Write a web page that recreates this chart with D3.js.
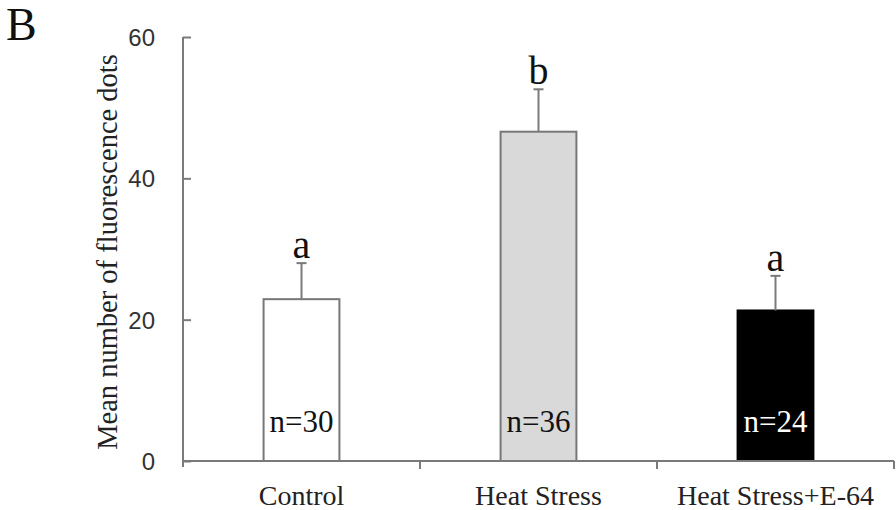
<!DOCTYPE html>
<html>
<head>
<meta charset="utf-8">
<script src="https://cdn.jsdelivr.net/npm/d3@7"></script>
<style>
body { margin: 0; background: #fff; }
</style>
</head>
<body>
<div id="graph"></div>
<script>
var categories = ["Control", "Heat Stress", "Heat Stress+E-64"];
var means = [22.9, 46.6, 21.3];
var errors = [5.1, 6.0, 4.9];
var letters = ["a", "b", "a"];
var sampleSizes = ["n=30", "n=36", "n=24"];
var fills = ["#ffffff", "#d9d9d9", "#000000"];
var yTicks = [0, 20, 40, 60];

var graph_width = 896, graph_height = 510;
var m_left = 183, m_right = 894, m_top = 37, m_bottom = 461;
var axisColor = "#7a7a7a";

var svg = d3.select("#graph").append("svg")
    .attr("width", graph_width)
    .attr("height", graph_height);

var x = d3.scaleBand().domain(categories).range([m_left, m_right]).paddingInner(0.68).paddingOuter(0.34);
var band = d3.scaleBand().domain(categories).range([m_left, m_right]);
var y = d3.scaleLinear().domain([0, 60]).range([m_bottom, m_top]);

// panel letter
svg.append("text")
    .attr("x", 6).attr("y", 40)
    .attr("font-family", "Liberation Serif")
    .attr("font-size", 46)
    .attr("fill", "#111")
    .text("B");

// bars
svg.selectAll("rect.bar").data(categories).enter().append("rect")
    .attr("class", "bar")
    .attr("x", function (d) { return x(d); })
    .attr("width", x.bandwidth())
    .attr("y", function (d, i) { return y(means[i]); })
    .attr("height", function (d, i) { return m_bottom - y(means[i]); })
    .attr("fill", function (d, i) { return fills[i]; })
    .attr("stroke", function (d, i) { return i == 2 ? "#000" : "#777"; })
    .attr("stroke-width", 2);

// error bars (upper only), letters and n labels
categories.forEach(function (c, i) {
    var cx = x(c) + x.bandwidth() / 2;
    svg.append("line")
        .attr("x1", cx).attr("x2", cx)
        .attr("y1", y(means[i])).attr("y2", y(means[i] + errors[i]))
        .attr("stroke", axisColor).attr("stroke-width", 2);
    svg.append("line")
        .attr("x1", cx - 5).attr("x2", cx + 5)
        .attr("y1", y(means[i] + errors[i])).attr("y2", y(means[i] + errors[i]))
        .attr("stroke", axisColor).attr("stroke-width", 2);
    svg.append("text")
        .attr("x", cx).attr("y", y(means[i] + errors[i]) - 5)
        .attr("text-anchor", "middle")
        .attr("font-family", "Liberation Serif")
        .attr("font-size", 40)
        .attr("fill", "#111")
        .text(letters[i]);
    svg.append("text")
        .attr("x", cx).attr("y", 432)
        .attr("text-anchor", "middle")
        .attr("font-family", "Liberation Serif")
        .attr("font-size", 31)
        .attr("fill", i == 2 ? "#fff" : "#111")
        .text(sampleSizes[i]);
});

// y axis
var yAxis = svg.append("g")
    .attr("transform", "translate(" + m_left + ",0)")
    .call(d3.axisRight(y).tickValues(yTicks).tickSize(8).tickFormat(""));
yAxis.select(".domain").attr("d", "M0," + m_top + "V" + (m_bottom + 6));
yAxis.selectAll("path, line").attr("stroke", axisColor).attr("stroke-width", 2);

svg.selectAll("text.ytick").data(yTicks).enter().append("text")
    .attr("class", "ytick")
    .attr("x", 155)
    .attr("y", function (d) { return y(d) + 9; })
    .attr("text-anchor", "end")
    .attr("font-family", "Liberation Sans")
    .attr("font-size", 24)
    .attr("fill", "#333")
    .text(function (d) { return d; });

// x axis
var xAxis = svg.append("g")
    .attr("transform", "translate(0," + m_bottom + ")");
xAxis.append("line")
    .attr("x1", m_left).attr("x2", m_right)
    .attr("y1", 0).attr("y2", 0)
    .attr("stroke", axisColor).attr("stroke-width", 2);
xAxis.selectAll("line.tick").data(categories).enter().append("line")
    .attr("class", "tick")
    .attr("x1", function (d) { return band(d) + band.bandwidth(); })
    .attr("x2", function (d) { return band(d) + band.bandwidth(); })
    .attr("y1", 0).attr("y2", 8)
    .attr("stroke", axisColor).attr("stroke-width", 2);

svg.selectAll("text.xlab").data(categories).enter().append("text")
    .attr("class", "xlab")
    .attr("x", function (d) { return band(d) + band.bandwidth() / 2; })
    .attr("y", 505)
    .attr("text-anchor", "middle")
    .attr("font-family", "Liberation Serif")
    .attr("font-size", 28)
    .attr("fill", "#222")
    .text(function (d) { return d; });

// y label
svg.append("text")
    .attr("transform", "translate(117,252) rotate(-90)")
    .attr("text-anchor", "middle")
    .attr("font-family", "Liberation Serif")
    .attr("font-size", 28.5)
    .attr("fill", "#222")
    .text("Mean number of fluorescence dots");
</script>
</body>
</html>
